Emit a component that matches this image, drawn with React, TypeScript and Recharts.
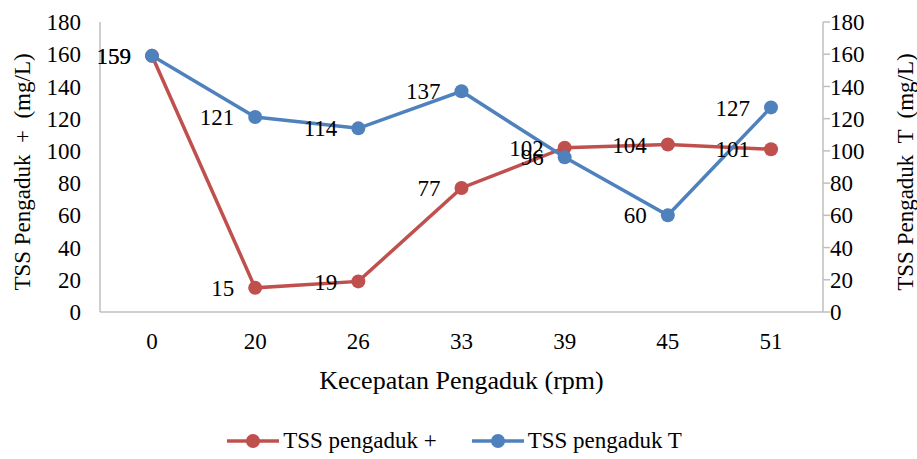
import React from 'react';
import {
    LineChart,
    Line,
    XAxis,
    YAxis,
    Legend,
    LabelList,
} from 'recharts';

const speeds = ['0', '20', '26', '33', '39', '45', '51'];
const tssPlus = [159, 15, 19, 77, 102, 104, 101];
const tssT = [159, 121, 114, 137, 96, 60, 127];
const yTicks = [0, 20, 40, 60, 80, 100, 120, 140, 160, 180];

const data = speeds.map((s, i) => ({ speed: s, plus: tssPlus[i], t: tssT[i] }));

const RED = '#C0504D';
const BLUE = '#4F81BD';
const AXIS = '#BFBFBF';
const FONT = 'Liberation Serif, Tinos, Times New Roman, DejaVu Serif, serif';

const tickStyle = { fontSize: 23, fill: '#000', fontFamily: FONT };
const labelStyle = { fontSize: 23, fill: '#000', fontFamily: FONT };

function LegendContent() {
    const items = [
        { label: 'TSS pengaduk +', color: RED },
        { label: 'TSS pengaduk T', color: BLUE },
    ];
    return (
        <div style={{ display: 'flex', justifyContent: 'center', gap: 35, height: 30, alignItems: 'center', fontFamily: FONT, fontSize: 23, paddingRight: 8 }}>
            {items.map((it) => (
                <div key={it.label} style={{ display: 'flex', alignItems: 'center' }}>
                    <svg width={52} height={16} style={{ marginRight: 4 }}>
                        <line x1={0} y1={8} x2={52} y2={8} stroke={it.color} strokeWidth={3.5} />
                        <circle cx={26} cy={8} r={7} fill={it.color} />
                    </svg>
                    <span>{it.label}</span>
                </div>
            ))}
        </div>
    );
}

export default function App() {
    return (
        <div style={{ position: 'absolute', left: 0, top: 0, width: 917, height: 459, background: '#fff', fontFamily: FONT }}>
            <LineChart
                width={917}
                height={459}
                data={data}
                margin={{ top: 22, right: 34, bottom: 47, left: 40 }}
                style={{ fontFamily: FONT }}
            >
                <XAxis
                    dataKey="speed"
                    height={70}
                    padding={{ left: 52, right: 52 }}
                    tickLine={false}
                    axisLine={{ stroke: AXIS, strokeWidth: 1.5 }}
                    tick={tickStyle}
                    tickSize={6}
                    tickMargin={15}
                    label={{
                        content: (p: any) => {
                            const vb = p.viewBox;
                            return (
                                <text x={vb.x + vb.width / 2} y={vb.y + 77} textAnchor="middle" fontSize={26} fontFamily={FONT} fill="#000">
                                    Kecepatan Pengaduk (rpm)
                                </text>
                            );
                        },
                    }}
                />
                <YAxis
                    yAxisId="left"
                    width={60}
                    domain={[0, 180]}
                    ticks={yTicks}
                    tickLine={false}
                    axisLine={{ stroke: AXIS, strokeWidth: 1.5 }}
                    tick={tickStyle}
                    tickSize={6}
                    tickMargin={13}
                    label={{
                        content: (p: any) => {
                            const vb = p.viewBox;
                            const cx = vb.x - 18;
                            const cy = vb.y + vb.height / 2 + 5;
                            return (
                                <text x={cx} y={cy} transform={`rotate(-90 ${cx} ${cy})`} textAnchor="middle" dominantBaseline="central" fontSize={23} fontFamily={FONT} fill="#000" style={{ whiteSpace: 'pre' }}>
                                    {'TSS Pengaduk  +  (mg/L)'}
                                </text>
                            );
                        },
                    }}
                />
                <YAxis
                    yAxisId="right"
                    orientation="right"
                    width={60}
                    domain={[0, 180]}
                    ticks={yTicks}
                    tickLine={{ stroke: AXIS, strokeWidth: 1.5 }}
                    axisLine={{ stroke: AXIS, strokeWidth: 1.5 }}
                    tick={{ ...tickStyle, textAnchor: 'start' }}
                    tickSize={7}
                    tickMargin={0}
                    label={{
                        content: (p: any) => {
                            const vb = p.viewBox;
                            const cx = vb.x + vb.width + 22;
                            const cy = vb.y + vb.height / 2 + 5;
                            return (
                                <text x={cx} y={cy} transform={`rotate(-90 ${cx} ${cy})`} textAnchor="middle" dominantBaseline="central" fontSize={23} fontFamily={FONT} fill="#000" style={{ whiteSpace: 'pre' }}>
                                    {'TSS Pengaduk  T  (mg/L)'}
                                </text>
                            );
                        },
                    }}
                />
                <Legend
                    verticalAlign="bottom"
                    height={30}
                    content={<LegendContent />}
                    wrapperStyle={{ position: 'absolute', top: 426, left: 0, width: 917 }}
                />
                <Line
                    yAxisId="left"
                    dataKey="plus"
                    name="TSS pengaduk +"
                    stroke={RED}
                    strokeWidth={3.5}
                    dot={{ r: 7, fill: RED, stroke: RED, strokeWidth: 0 }}
                    activeDot={false}
                    isAnimationActive={false}
                >
                    <LabelList dataKey="plus" position="left" offset={21} style={labelStyle} />
                </Line>
                <Line
                    yAxisId="right"
                    dataKey="t"
                    name="TSS pengaduk T"
                    stroke={BLUE}
                    strokeWidth={3.5}
                    dot={{ r: 7, fill: BLUE, stroke: BLUE, strokeWidth: 0 }}
                    activeDot={false}
                    isAnimationActive={false}
                >
                    <LabelList dataKey="t" position="left" offset={21} style={labelStyle} />
                </Line>
            </LineChart>
        </div>
    );
}
